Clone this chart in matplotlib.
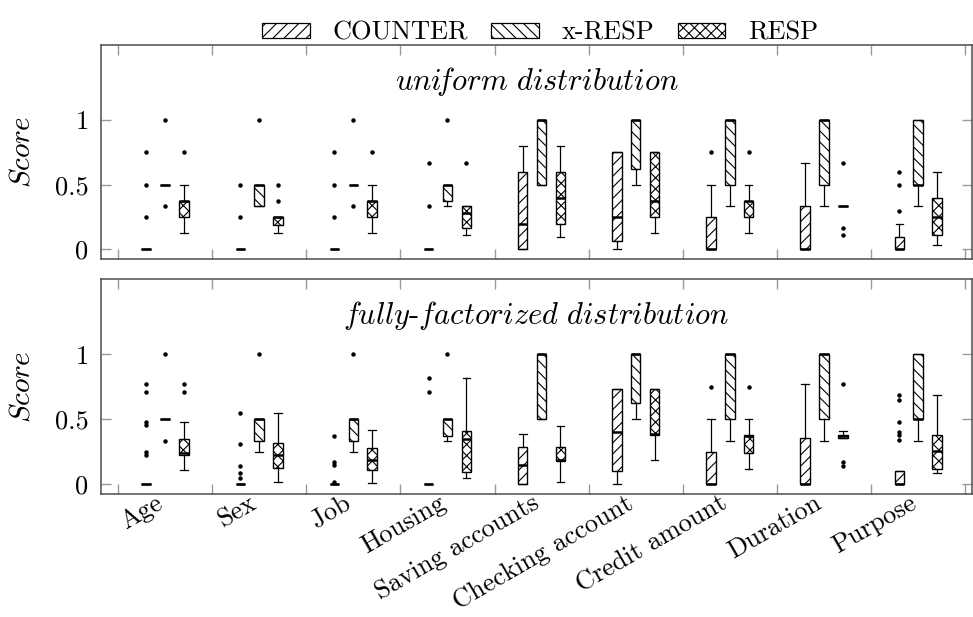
import numpy as np
import matplotlib
matplotlib.use("Agg")
import matplotlib.pyplot as plt
import matplotlib.transforms as mtransforms
from matplotlib.patches import Patch

plt.rcParams['font.family'] = 'cmr10'
plt.rcParams['mathtext.fontset'] = 'cm'
plt.rcParams['axes.formatter.use_mathtext'] = True
plt.rcParams['hatch.linewidth'] = 0.8

categories = ['Age', 'Sex', 'Job', 'Housing', 'Saving accounts',
              'Checking account', 'Credit amount', 'Duration', 'Purpose']
series = ['COUNTER', 'x-RESP', 'RESP']
hatches = ['///', '\\\\\\', 'xxx']
y_ticks = [0, 0.5, 1]
y_tick_labels = ['0', '0.5', '1']

# box stats per category: (whislo, q1, med, q3, whishi)
# --- uniform distribution ---
counter_uni = [(0, 0, 0, 0, 0), (0, 0, 0, 0, 0), (0, 0, 0, 0, 0), (0, 0, 0, 0, 0),
               (0, 0, 0.2, 0.6, 0.8), (0, 0.0625, 0.25, 0.75, 0.75),
               (0, 0, 0, 0.25, 0.5), (0, 0, 0, 0.333, 0.667), (0, 0, 0, 0.1, 0.2)]
counter_uni_fliers = [[0.25, 0.5, 0.75], [0.25, 0.5], [0.25, 0.5, 0.75], [0.333, 0.667],
                      [], [], [0.75], [], [0.3, 0.5, 0.6]]
xresp_uni = [(0.5, 0.5, 0.5, 0.5, 0.5), (0.333, 0.333, 0.5, 0.5, 0.5),
             (0.5, 0.5, 0.5, 0.5, 0.5), (0.333, 0.375, 0.5, 0.5, 0.5),
             (0.5, 0.5, 1, 1, 1), (0.5, 0.625, 1, 1, 1), (0.333, 0.5, 1, 1, 1),
             (0.333, 0.5, 1, 1, 1), (0.333, 0.5, 0.5, 1, 1)]
xresp_uni_fliers = [[1.0, 0.333], [1.0], [1.0, 0.333], [1.0], [], [], [], [], []]
resp_uni = [(0.125, 0.25, 0.375, 0.375, 0.5), (0.125, 0.19, 0.25, 0.25, 0.25),
            (0.125, 0.25, 0.375, 0.375, 0.5), (0.11, 0.167, 0.278, 0.333, 0.333),
            (0.1, 0.2, 0.4, 0.6, 0.8), (0.125, 0.25, 0.375, 0.75, 0.75),
            (0.125, 0.25, 0.375, 0.375, 0.5), (0.333, 0.333, 0.333, 0.333, 0.333),
            (0.035, 0.111, 0.25, 0.4, 0.6)]
resp_uni_fliers = [[0.75], [0.5, 0.375], [0.75], [0.667], [], [], [0.75],
                   [0.667, 0.167, 0.111], []]

# --- fully-factorized distribution ---
counter_ff = [(0, 0, 0, 0, 0), (0, 0, 0, 0, 0), (0, 0, 0, 0, 0), (0, 0, 0, 0, 0),
              (0, 0, 0.15, 0.29, 0.39), (0, 0.1, 0.4, 0.73, 0.73),
              (0, 0, 0, 0.25, 0.5), (0, 0, 0, 0.36, 0.77), (0, 0, 0, 0.1, 0.1)]
counter_ff_fliers = [[0.25, 0.23, 0.48, 0.46, 0.77, 0.71], [0.55, 0.31, 0.14, 0.09, 0.05],
                     [0.37, 0.17, 0.15, 0.02], [0.82, 0.71], [], [], [0.75], [],
                     [0.69, 0.65, 0.48, 0.4, 0.38, 0.34]]
xresp_ff = [(0.5, 0.5, 0.5, 0.5, 0.5), (0.25, 0.333, 0.5, 0.5, 0.5),
            (0.25, 0.333, 0.5, 0.5, 0.5), (0.333, 0.375, 0.5, 0.5, 0.5),
            (0.5, 0.5, 1, 1, 1), (0.5, 0.625, 1, 1, 1), (0.333, 0.5, 1, 1, 1),
            (0.333, 0.5, 1, 1, 1), (0.333, 0.5, 0.5, 1, 1)]
xresp_ff_fliers = [[1.0, 0.333], [1.0], [1.0], [1.0], [], [], [], [], []]
resp_ff = [(0.11, 0.23, 0.24, 0.35, 0.48), (0.02, 0.13, 0.225, 0.32, 0.55),
           (0.01, 0.11, 0.19, 0.28, 0.42), (0.05, 0.095, 0.35, 0.41, 0.82),
           (0.02, 0.18, 0.19, 0.29, 0.45), (0.19, 0.38, 0.39, 0.73, 0.73),
           (0.12, 0.245, 0.375, 0.377, 0.5), (0.36, 0.36, 0.37, 0.38, 0.41),
           (0.09, 0.12, 0.26, 0.38, 0.69)]
resp_ff_fliers = [[0.77, 0.71], [], [], [], [], [], [0.75], [0.77, 0.17, 0.14], []]

panels = [
    (r'$\mathit{uni\!form\ distribution}$',
     [(counter_uni, counter_uni_fliers), (xresp_uni, xresp_uni_fliers), (resp_uni, resp_uni_fliers)]),
    (r'$\mathit{fully}$-$\mathit{factorized\ distribution}$',
     [(counter_ff, counter_ff_fliers), (xresp_ff, xresp_ff_fliers), (resp_ff, resp_ff_fliers)]),
]


def make_stats(boxes, fliers):
    out = []
    for (lo, q1, med, q3, hi), fl in zip(boxes, fliers):
        out.append(dict(whislo=lo, q1=q1, med=med, q3=q3, whishi=hi, fliers=fl))
    return out


fig = plt.figure(figsize=(9.73, 6.17), dpi=100)
ax_top = fig.add_axes([0.1038, 0.580, 0.895, 0.347])
ax_bot = fig.add_axes([0.1038, 0.199, 0.895, 0.349])

x = np.arange(len(categories))
offsets = [-0.2, 0.0, 0.2]
fs = 19

for ax, (title, data) in zip([ax_top, ax_bot], panels):
    for k, (boxes, fliers) in enumerate(data):
        ax.bxp(make_stats(boxes, fliers), positions=x + offsets[k], widths=0.1,
               capwidths=0.08, patch_artist=True, manage_ticks=False,
               boxprops=dict(facecolor='white', edgecolor='black', linewidth=1.0,
                             hatch=hatches[k]),
               medianprops=dict(color='black', linewidth=1.8),
               whiskerprops=dict(color='black', linewidth=0.9),
               capprops=dict(color='black', linewidth=0.9),
               flierprops=dict(marker='o', markersize=2.2, markerfacecolor='black',
                               markeredgecolor='black', linestyle='none'))
    ax.set_xlim(-0.68, 8.57)
    ax.set_ylim(-0.075, 1.58)
    ax.set_yticks(y_ticks)
    ax.set_yticklabels(y_tick_labels, fontsize=fs)
    ax.set_xticks(np.append(x - 0.5, 8.5), minor=False)
    ax.set_xticklabels([])
    ax.tick_params(axis='both', which='major', direction='in', length=7,
                   color='0.6', width=1.0, top=True, right=True, pad=9)
    for sp in ax.spines.values():
        sp.set_color('0.3')
        sp.set_linewidth(1.1)
    ax.set_ylabel(r'$\mathit{Score}$', fontsize=21, labelpad=14)
    ax.text(0.5, 0.83, title, transform=ax.transAxes, ha='center', va='center',
            fontsize=22)

# category labels on the bottom axis
ax_bot.set_xticks(x, minor=True)
ax_bot.set_xticklabels(categories, minor=True, rotation=30, ha='right',
                       rotation_mode='anchor', fontsize=19)
ax_bot.tick_params(axis='x', which='minor', length=0, pad=0)
shift = mtransforms.ScaledTranslation(-0.10, 0.03, fig.dpi_scale_trans)
for lab in ax_bot.get_xticklabels(minor=True):
    lab.set_transform(lab.get_transform() + shift)

handles = [Patch(facecolor='white', edgecolor='black', linewidth=0.9, hatch=h)
           for h in hatches]
fig.legend(handles, series, loc='upper center', bbox_to_anchor=(0.555, 1.005),
           ncol=3, frameon=False, fontsize=fs, handlelength=1.8, handleheight=0.5,
           handletextpad=0.85, columnspacing=0.9)

fig.savefig('out.png', dpi=100)
